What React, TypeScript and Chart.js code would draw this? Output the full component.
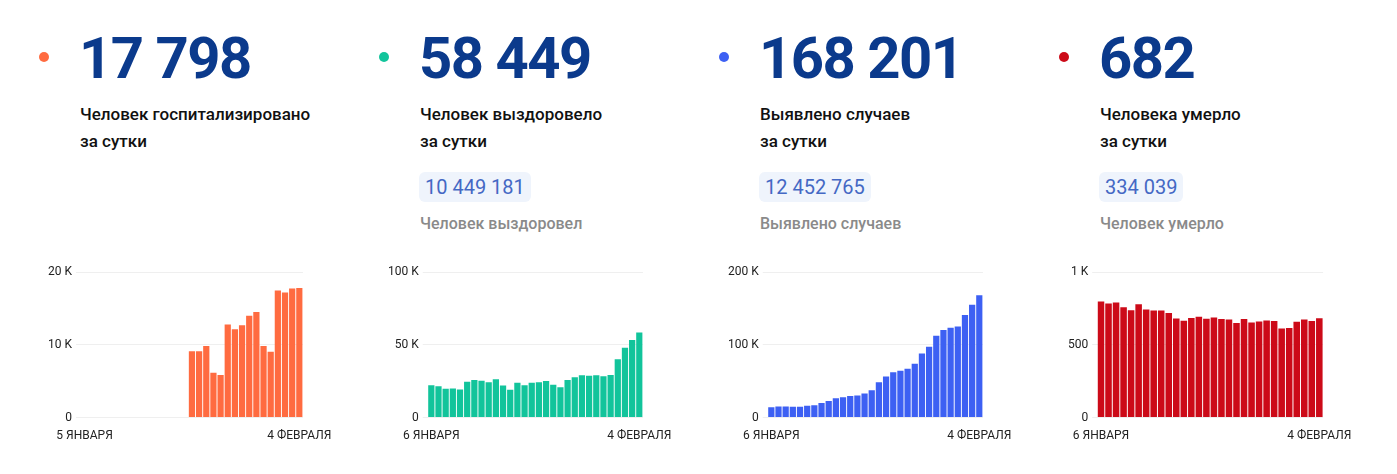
import React, { useEffect, useRef } from "react";
import { Chart, registerables } from "chart.js";

Chart.register(...registerables);

const datesFrom5: string[] = [
  "5 ЯНВАРЯ", "6 ЯНВАРЯ", "7 ЯНВАРЯ", "8 ЯНВАРЯ", "9 ЯНВАРЯ", "10 ЯНВАРЯ", "11 ЯНВАРЯ",
  "12 ЯНВАРЯ", "13 ЯНВАРЯ", "14 ЯНВАРЯ", "15 ЯНВАРЯ", "16 ЯНВАРЯ", "17 ЯНВАРЯ", "18 ЯНВАРЯ",
  "19 ЯНВАРЯ", "20 ЯНВАРЯ", "21 ЯНВАРЯ", "22 ЯНВАРЯ", "23 ЯНВАРЯ", "24 ЯНВАРЯ", "25 ЯНВАРЯ",
  "26 ЯНВАРЯ", "27 ЯНВАРЯ", "28 ЯНВАРЯ", "29 ЯНВАРЯ", "30 ЯНВАРЯ", "31 ЯНВАРЯ",
  "1 ФЕВРАЛЯ", "2 ФЕВРАЛЯ", "3 ФЕВРАЛЯ", "4 ФЕВРАЛЯ",
];
const datesFrom6: string[] = datesFrom5.slice(1);

const hospitalized: (number | null)[] = [
  null, null, null, null, null, null, null, null, null, null, null, null, null, null, null,
  9100, 9100, 9850, 6150, 5850, 12800, 12150, 12700, 14000, 14500, 9850, 9050, 17450, 17200, 17750, 17798,
];
const recovered: number[] = [
  22300, 21600, 19800, 20000, 19300, 24700, 25800, 25300, 24200, 26300, 22100, 19100, 24000, 22300, 24000,
  24200, 25100, 22600, 20900, 25800, 27700, 29100, 28800, 29100, 28400, 29300, 40000, 47900, 53300, 58449,
];
const cases: number[] = [
  14200, 15300, 15300, 15000, 14800, 16300, 16800, 20000, 22800, 26500, 27900, 29800, 30200, 33000, 37700,
  48400, 56300, 62300, 64200, 67000, 74000, 88000, 97200, 112600, 120500, 123300, 125000, 141000, 155000, 168201,
];
const deaths: number[] = [
  798, 784, 791, 758, 737, 779, 742, 735, 735, 719, 681, 665, 684, 693, 679,
  688, 677, 674, 649, 677, 653, 660, 667, 663, 612, 616, 658, 674, 663, 682,
];

const yMax: number[] = [20000, 100000, 200000, 1000];
const yStep: number[] = [10000, 50000, 100000, 500];

const headlineValues: string[] = ["17 798", "58 449", "168 201", "682"];
const headlineLine1: string[] = ["Человек госпитализировано", "Человек выздоровело", "Выявлено случаев", "Человека умерло"];
const headlineLine2 = "за сутки";
const totals: (string | null)[] = [null, "10 449 181", "12 452 765", "334 039"];
const totalLabels: (string | null)[] = [null, "Человек выздоровел", "Выявлено случаев", "Человек умерло"];
const colors: string[] = ["#ff6b40", "#12c49b", "#3d60f3", "#cc0a18"];

const FONT = "Roboto, 'Noto Sans', sans-serif";

function fmtY(v: number): string {
  if (v === 0) return "0";
  if (v >= 1000) return v / 1000 + " K";
  return String(v);
}

function BarChart(props: { labels: string[]; values: (number | null)[]; color: string; max: number; step: number }) {
  const ref = useRef<HTMLCanvasElement | null>(null);
  useEffect(() => {
    if (!ref.current) return;
    const labels = props.labels;
    const chart = new Chart(ref.current, {
      type: "bar",
      data: {
        labels,
        datasets: [
          {
            data: props.values,
            backgroundColor: props.color,
            borderWidth: 0,
            barPercentage: 0.87,
            categoryPercentage: 1.0,
          },
        ],
      },
      options: {
        animation: false,
        responsive: true,
        maintainAspectRatio: false,
        layout: { padding: { left: 4, right: 38, top: 14, bottom: 0 } },
        plugins: { legend: { display: false }, tooltip: { enabled: false } },
        scales: {
          x: {
            grid: { display: false, drawTicks: false },
            border: { display: false },
            ticks: {
              autoSkip: false,
              maxRotation: 0,
              minRotation: 0,
              padding: 11,
              color: "#222",
              font: { family: FONT, size: 12 },
              callback: (_v: any, i: number) => (i === 0 || i === labels.length - 1 ? labels[i] : ""),
            },
          },
          y: {
            min: 0,
            max: props.max,
            grid: { color: "#efefef", drawTicks: true, tickLength: 5, lineWidth: 1 },
            border: { display: false },
            ticks: {
              stepSize: props.step,
              padding: 4,
              color: "#222",
              font: { family: FONT, size: 12 },
              callback: (v: any) => fmtY(Number(v)),
            },
          },
        },
      },
    });
    return () => chart.destroy();
  }, []);
  return <canvas ref={ref} />;
}

export default function App() {
  const chartLabels = [datesFrom5, datesFrom6, datesFrom6, datesFrom6];
  const chartValues = [hospitalized, recovered, cases, deaths];
  return (
    <div style={{ position: "absolute", left: 0, top: 0, width: 1397, height: 474, background: "#fff", fontFamily: FONT }}>
      {[0, 1, 2, 3].map((i) => {
        const px = 40 + i * 340;
        return (
          <div key={i}>
            <div
              style={{
                position: "absolute",
                left: px - 1,
                top: 52,
                width: 10,
                height: 10,
                borderRadius: 5,
                background: colors[i],
              }}
            />
            <div
              style={{
                position: "absolute",
                left: px + 39,
                top: 29,
                fontSize: 58,
                lineHeight: "58px",
                fontWeight: 700,
                letterSpacing: "-1.5px",
                color: "#0b3a8c",
                whiteSpace: "nowrap",
              }}
            >
              {headlineValues[i]}
            </div>
            <div
              style={{
                position: "absolute",
                left: px + 40,
                top: 101,
                fontSize: 17,
                lineHeight: "27px",
                fontWeight: 500,
                color: "#111",
                whiteSpace: "nowrap",
              }}
            >
              <div>{headlineLine1[i]}</div>
              <div>{headlineLine2}</div>
            </div>
            {totals[i] && (
              <div
                style={{
                  position: "absolute",
                  left: px + 39,
                  top: 172,
                  height: 30,
                  padding: "0 6px",
                  borderRadius: 6,
                  background: "#eff4fc",
                  fontSize: 20,
                  lineHeight: "30px",
                  fontWeight: 400,
                  color: "#4468c4",
                  whiteSpace: "nowrap",
                }}
              >
                {totals[i]}
              </div>
            )}
            {totalLabels[i] && (
              <div
                style={{
                  position: "absolute",
                  left: px + 40,
                  top: 214,
                  fontSize: 16,
                  lineHeight: "20px",
                  fontWeight: 500,
                  color: "#8a8a8a",
                  whiteSpace: "nowrap",
                }}
              >
                {totalLabels[i]}
              </div>
            )}
            <div style={{ position: "absolute", left: px, top: 258, width: 303, height: 196 }}>
              <BarChart labels={chartLabels[i]} values={chartValues[i]} color={colors[i]} max={yMax[i]} step={yStep[i]} />
            </div>
          </div>
        );
      })}
    </div>
  );
}
